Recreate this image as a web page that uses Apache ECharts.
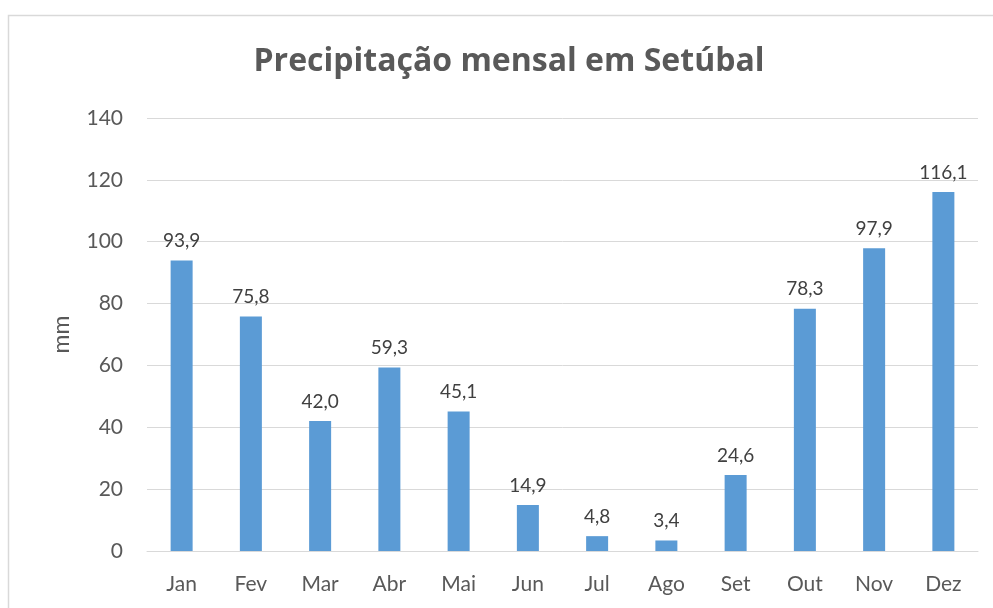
<!DOCTYPE html>
<html>
<head>
<meta charset="utf-8">
<script src="https://cdn.jsdelivr.net/npm/echarts@6/dist/echarts.min.js"></script>
<style>html,body{margin:0;padding:0;background:#fff}#c{width:993px;height:608px}</style>
</head>
<body>
<div id="c"></div>
<script>
const categories = ['Jan','Fev','Mar','Abr','Mai','Jun','Jul','Ago','Set','Out','Nov','Dez'];
const precipitation = [93.9, 75.8, 42.0, 59.3, 45.1, 14.9, 4.8, 3.4, 24.6, 78.3, 97.9, 116.1];
const yTicks = { min: 0, max: 140, interval: 20 };
const titleText = 'Precipitação mensal em Setúbal';
const yName = 'mm';

const chart = echarts.init(document.getElementById('c'), null, {renderer: 'canvas'});
const font = 'Lato, "Noto Sans", sans-serif';
chart.setOption({
  animation: false,
  backgroundColor: '#fff',
  graphic: [{
    type: 'rect', shape: {x: 8.5, y: 15.5, width: 1100, height: 700},
    style: {fill: 'none', stroke: '#d9d9d9', lineWidth: 1.5}, silent: true
  }],
  title: {
    text: titleText, left: 504, top: 41, textAlign: 'center',
    textStyle: {fontFamily: '"Open Sans", Lato, sans-serif', fontWeight: 'bold', fontSize: 32, color: '#595959'}
  },
  grid: {left: 147, right: 15, top: 118, bottom: 57},
  xAxis: {
    type: 'category', data: categories,
    axisLine: {show: true, lineStyle: {color: '#d9d9d9', width: 1}},
    axisTick: {show: false},
    axisLabel: {fontFamily: font, fontSize: 21, color: '#595959', margin: 23}
  },
  yAxis: {
    type: 'value', min: yTicks.min, max: yTicks.max, interval: yTicks.interval,
    name: yName, nameLocation: 'middle', nameGap: 74, nameRotate: 90,
    nameTextStyle: {fontFamily: font, fontSize: 23, color: '#595959'},
    axisLine: {show: false}, axisTick: {show: false},
    axisLabel: {fontFamily: font, fontSize: 21, color: '#595959', margin: 24},
    splitLine: {lineStyle: {color: '#d9d9d9', width: 1}}
  },
  series: [{
    type: 'bar', data: precipitation, barWidth: 22,
    itemStyle: {color: '#5B9BD5'},
    label: {
      show: true, position: 'top', distance: 10,
      fontFamily: font, fontSize: 19, color: '#404040',
      formatter: p => p.value.toFixed(1).replace('.', ',')
    }
  }]
});
</script>
</body>
</html>
